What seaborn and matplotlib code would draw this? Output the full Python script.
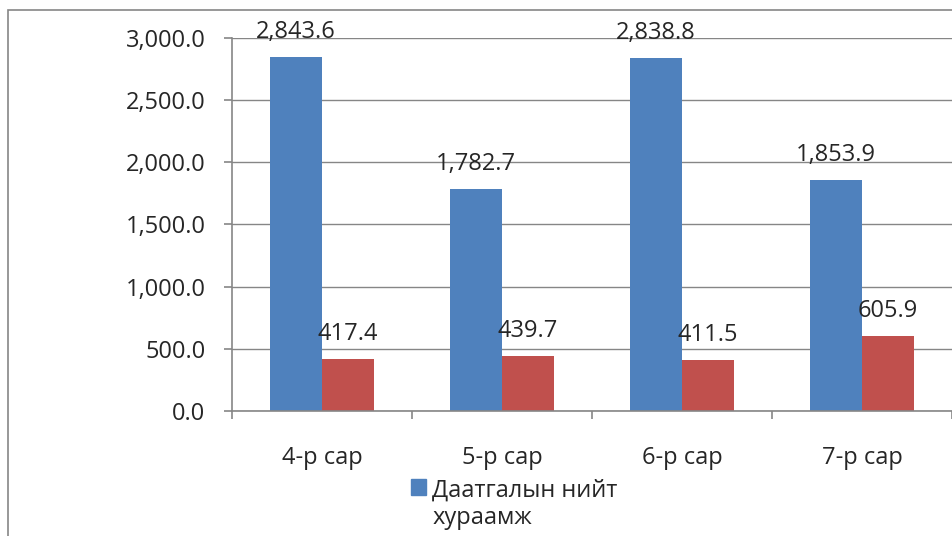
import matplotlib
matplotlib.use("Agg")
import matplotlib.pyplot as plt
import matplotlib.ticker as mticker
from matplotlib.patches import Patch, Rectangle
from matplotlib.legend_handler import HandlerPatch
import pandas as pd
import seaborn as sns

months = ["4-р сар", "5-р сар", "6-р сар", "7-р сар"]
premium = [2843.6, 1782.7, 2838.8, 1853.9]
claims = [417.4, 439.7, 411.5, 605.9]
series_names = ["Даатгалын нийт хураамж", "Нөхөн төлбөр"]
y_ticks = [0, 500, 1000, 1500, 2000, 2500, 3000]

blue = "#4F81BD"
red = "#C0504D"
grey = "#868686"

sns.set_style("white")
plt.rcParams["font.family"] = ["Open Sans", "DejaVu Sans"]
plt.rcParams["font.size"] = 17

df = pd.DataFrame({
    "month": months * 2,
    "value": premium + claims,
    "series": [series_names[0]] * 4 + [series_names[1]] * 4,
})

fig = plt.figure(figsize=(9.53, 5.36), dpi=100)
ax = fig.add_axes([232 / 953, 1 - 411 / 536, 720 / 953, 373 / 536])

sns.barplot(data=df, x="month", y="value", hue="series", order=months,
            hue_order=series_names, palette=[blue, red], width=0.578,
            gap=0, saturation=1, linewidth=0, ax=ax, legend=False)

ax.set_xlim(-0.5, 3.5)
ax.set_ylim(0, 3000)
ax.set_yticks(y_ticks)
ax.yaxis.set_major_formatter(mticker.FuncFormatter(lambda v, p: f"{v:,.1f}"))
ax.set_xlabel("")
ax.set_ylabel("")
ax.grid(axis="y", color=grey, linewidth=1)
ax.set_axisbelow(True)

for s in ["top", "right"]:
    ax.spines[s].set_visible(False)
for s in ["left", "bottom"]:
    ax.spines[s].set_color(grey)
    ax.spines[s].set_linewidth(1.2)

ax.tick_params(axis="y", direction="out", length=6, width=1.2, color=grey,
               pad=13, labelsize=17, left=True)
ax.tick_params(axis="x", which="major", length=0, pad=25, labelsize=17)
ax.set_xticks([-0.5, 0.5, 1.5, 2.5, 3.5], minor=True)
ax.tick_params(axis="x", which="minor", direction="out", length=6,
               width=1.2, color=grey, bottom=True)

for cont in ax.containers:
    for bar in cont:
        h = bar.get_height()
        ax.annotate(f"{h:,.1f}", (bar.get_x() + bar.get_width() / 2, h),
                    xytext=(0, 18), textcoords="offset points",
                    ha="center", va="center", fontsize=17)

fig.patches.append(Rectangle((8 / 953, -0.1), 2, 1 - 10 / 536 + 0.1,
                             transform=fig.transFigure, fill=False,
                             edgecolor=grey, linewidth=1.2))


# keep the legend square level with the first line of the label
def top_square(legend, orig_handle, xdescent, ydescent, width, height, fontsize):
    return Rectangle((-xdescent, -ydescent + 13), width, height)


fig.legend(handles=[Patch(color=blue)], labels=["Даатгалын нийт\nхураамж"],
           loc="upper left", bbox_to_anchor=(399 / 953, 1 - 467 / 536),
           frameon=False, borderpad=0, handlelength=0.65, handleheight=0.68,
           handletextpad=0.25, fontsize=17,
           handler_map={Patch: HandlerPatch(patch_func=top_square)})

fig.savefig("out.png", dpi=100)
